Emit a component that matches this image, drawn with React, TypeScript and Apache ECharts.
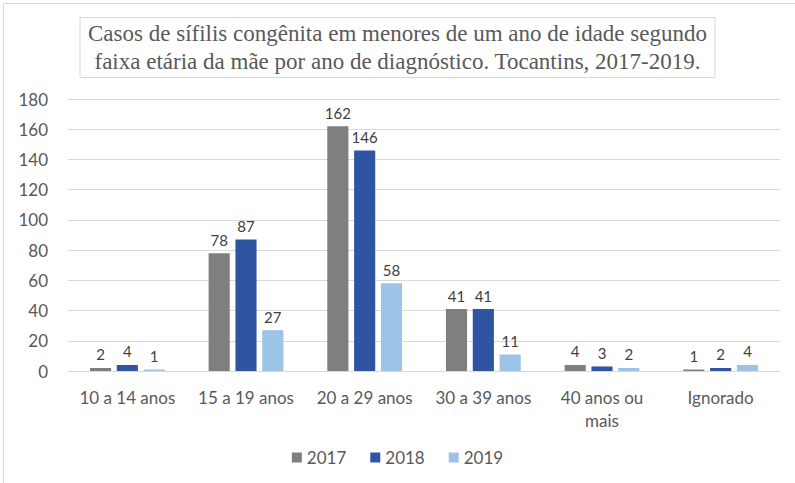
import React, { useEffect, useRef } from "react";
import * as echarts from "echarts";

const categories = ["10 a 14 anos", "15 a 19 anos", "20 a 29 anos", "30 a 39 anos", "40 anos ou\nmais", "Ignorado"];
const seriesNames = ["2017", "2018", "2019"];
const values2017 = [2, 78, 162, 41, 4, 1];
const values2018 = [4, 87, 146, 41, 3, 2];
const values2019 = [1, 27, 58, 11, 2, 4];
const colors = ["#7f7f7f", "#2f55a2", "#9dc3e6"];
const titleText = "Casos de sífilis congênita em menores de um ano de idade segundo\nfaixa etária da mãe por ano de diagnóstico. Tocantins, 2017-2019.";

export default function App() {
  const ref = useRef<HTMLDivElement>(null);
  useEffect(() => {
    if (!ref.current) return;
    const chart = echarts.init(ref.current, null, { renderer: "svg" });
    const font = "Lato, 'Open Sans', sans-serif";
    const data = [values2017, values2018, values2019];
    chart.setOption({
      animation: false,
      backgroundColor: "#ffffff",
      title: {
        text: titleText,
        left: "center",
        top: 17,
        padding: [2, 8, 3, 8],
        borderColor: "#d9d9d9",
        borderWidth: 1,
        textStyle: {
          fontFamily: "'Liberation Serif', 'DejaVu Serif', serif",
          fontSize: 23,
          fontWeight: "normal",
          color: "#595959",
          lineHeight: 28,
        },
      },
      graphic: [
        {
          type: "rect",
          left: 1,
          top: 1,
          shape: { width: 792, height: 480 },
          style: { fill: "none", stroke: "#d9d9d9", lineWidth: 1 },
          silent: true,
        },
      ],
      legend: {
        bottom: 12,
        left: "center",
        itemWidth: 10,
        itemHeight: 10,
        itemGap: 24,
        icon: "rect",
        textStyle: { fontFamily: font, fontSize: 17, color: "#595959" },
        data: seriesNames,
      },
      grid: { left: 68, right: 15, top: 99, bottom: 112 },
      xAxis: {
        type: "category",
        data: categories,
        axisLine: { lineStyle: { color: "#d9d9d9" } },
        axisTick: { show: false },
        axisLabel: {
          fontFamily: font,
          fontSize: 17,
          color: "#595959",
          margin: 15,
          lineHeight: 23,
          interval: 0,
        },
      },
      yAxis: {
        type: "value",
        min: 0,
        max: 180,
        interval: 20,
        axisLine: { show: false },
        axisTick: { show: false },
        splitLine: { lineStyle: { color: "#d9d9d9" } },
        axisLabel: {
          fontFamily: font,
          fontSize: 17,
          color: "#595959",
          margin: 20,
        },
      },
      series: seriesNames.map((name, i) => ({
        name,
        type: "bar",
        data: data[i],
        barGap: "27%",
        barCategoryGap: "37%",
        itemStyle: { color: colors[i] },
        label: {
          show: true,
          position: "top",
          distance: 6,
          fontFamily: font,
          fontSize: 15,
          color: "#404040",
        },
      })),
    });
    return () => chart.dispose();
  }, []);
  return <div ref={ref} style={{ position: "fixed", left: 0, top: 0, width: 795, height: 483 }} />;
}
